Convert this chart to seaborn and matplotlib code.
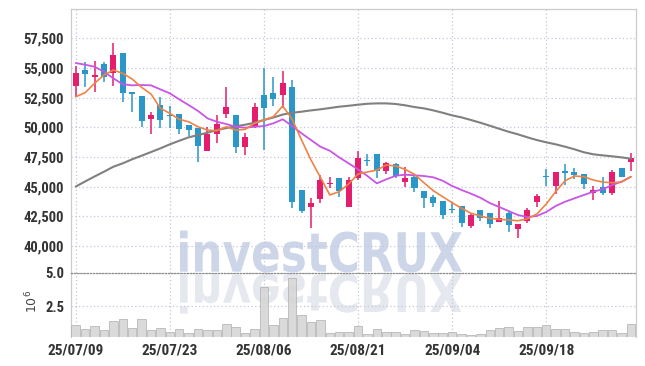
import os
import numpy as np
import pandas as pd
import seaborn as sns
import matplotlib
matplotlib.use("Agg")
import matplotlib.pyplot as plt
from matplotlib import font_manager
from matplotlib.textpath import TextPath
from matplotlib.patches import PathPatch
from matplotlib.font_manager import FontProperties
from matplotlib.transforms import Affine2D

# trading days (KRX), 25/07/09 .. 25/10/01
dates = [
    "07/09", "07/10", "07/11", "07/14", "07/15", "07/16", "07/17", "07/18", "07/21", "07/22",
    "07/23", "07/24", "07/25", "07/28", "07/29", "07/30", "07/31", "08/01", "08/04", "08/05",
    "08/06", "08/07", "08/08", "08/11", "08/12", "08/13", "08/14", "08/18", "08/19", "08/20",
    "08/21", "08/22", "08/25", "08/26", "08/27", "08/28", "08/29", "09/01", "09/02", "09/03",
    "09/04", "09/05", "09/08", "09/09", "09/10", "09/11", "09/12", "09/15", "09/16", "09/17",
    "09/18", "09/19", "09/22", "09/23", "09/24", "09/25", "09/26", "09/29", "09/30", "10/01",
]

opens = [53480, 54830, 54270, 55340, 54550, 56260, 52950, 52640, 50730, 51880,
         51040, 51100, 50200, 49970, 48030, 49410, 51100, 51040, 48320, 50050,
         52720, 52870, 52720, 53370, 44720, 43260, 43940, 45230, 45700, 43310,
         45700, 47250, 47730, 46350, 46910, 45420, 45840, 44630, 44150, 43790,
         43130, 43370, 41690, 43030, 42760, 42050, 42760, 41430, 42130, 43730,
         45870, 45060, 46320, 46260, 46070, 44490, 45000, 44490, 46600, 47050]
highs = [55170, 55480, 55590, 55530, 57080, 56260, 53000, 52640, 51320, 52580,
         51800, 51120, 50200, 49970, 50050, 51040, 53370, 51040, 49500, 52080,
         54970, 54270, 54750, 53990, 44720, 44020, 45980, 45790, 45700, 45790,
         48030, 47730, 47730, 47100, 46970, 46630, 45980, 44630, 44300, 43790,
         43600, 43370, 42760, 43030, 42810, 43790, 42950, 41860, 43180, 44380,
         46460, 46260, 46880, 46550, 46070, 45060, 45840, 46400, 46600, 47860]
lows = [52580, 53420, 53000, 53840, 53480, 52160, 51320, 50000, 49440, 49920,
        49920, 49440, 49270, 47100, 48030, 48650, 50760, 47810, 47670, 49920,
        48090, 51800, 51600, 43180, 42810, 41490, 43600, 44860, 44100, 43260,
        45560, 46740, 45700, 46070, 45700, 45000, 44580, 43180, 43310, 42250,
        42760, 41630, 41490, 42130, 41540, 42050, 41210, 40650, 41960, 43260,
        45060, 44380, 45140, 45620, 44780, 43880, 44300, 44300, 45790, 46350]
closes = [54600, 54490, 54410, 54220, 56090, 52870, 52780, 50560, 51040, 50640,
          50950, 49880, 49770, 48430, 49410, 50260, 51690, 48320, 49160, 51690,
          51650, 52360, 53710, 43730, 42970, 43600, 45560, 45330, 44660, 45560,
          47390, 47190, 46320, 46970, 45900, 45760, 44860, 44070, 43600, 42610,
          43060, 41960, 42610, 42330, 41830, 42330, 41770, 41860, 43030, 44210,
          45810, 46210, 46180, 45980, 45230, 44720, 44440, 46210, 45790, 47390]

ma_short = [52580, 52920, 53710, 54410, 54830, 54550, 54070, 53370, 52810, 51600,
            51180, 50680, 50470, 50050, 49770, 49720, 50050, 49770, 49830, 50340,
            50620, 50900, 51800, 50680, 48930, 47250, 45790, 44300, 44580, 45230,
            46070, 46240, 46400, 46830, 46740, 46460, 46040, 45330, 44660, 44150,
            43650, 43180, 42760, 42530, 42330, 42250, 42190, 42130, 42300, 42700,
            43540, 44580, 45500, 45900, 45840, 45560, 45390, 45330, 45390, 45840]
ma_mid = [55420, 55280, 55110, 54690, 54130, 53630, 53540, 53570, 53540, 53200,
          52870, 52360, 51880, 51380, 50760, 50470, 50280, 50050, 49970, 50050,
          50110, 50340, 50680, 50110, 49500, 48930, 48370, 48030, 47470, 46970,
          46460, 45900, 45280, 45620, 45920, 46010, 45960, 45900, 45790, 45500,
          45060, 44720, 44410, 44070, 43620, 43290, 42950, 42610, 42440, 42530,
          42870, 43370, 43730, 44020, 44300, 44580, 44780, 45140, 45420, 45840]
ma_long = [45010, 45440, 45860, 46260, 46680, 46970, 47310, 47610, 47920, 48230,
           48570, 48870, 49160, 49350, 49550, 49770, 49940, 50090, 50220, 50390,
           50620, 50830, 51080, 51230, 51320, 51430, 51520, 51630, 51740, 51820,
           51910, 51990, 52020, 52020, 51970, 51860, 51710, 51600, 51430, 51230,
           51010, 50840, 50620, 50390, 50140, 49880, 49630, 49410, 49160, 48930,
           48740, 48570, 48370, 48150, 47900, 47730, 47640, 47560, 47470, 47360]

# volume in millions of shares
volume = [1.08, 0.78, 1.00, 0.68, 1.35, 1.53, 0.85, 1.53, 0.68, 0.85,
          0.53, 0.75, 0.45, 0.75, 0.68, 0.68, 1.13, 0.93, 0.45, 0.75,
          3.90, 1.05, 1.58, 4.58, 1.80, 1.28, 1.43, 0.45, 0.53, 0.53,
          1.00, 0.38, 0.75, 0.53, 0.53, 0.38, 0.68, 0.60, 0.50, 0.45,
          0.53, 0.38, 0.33, 0.38, 0.68, 0.85, 0.93, 0.60, 0.93, 0.93,
          1.05, 0.75, 0.75, 0.53, 0.45, 0.58, 0.68, 0.68, 0.45, 1.13]

price_ticks = [40000, 42500, 45000, 47500, 50000, 52500, 55000, 57500]

RED = "#e41e6c"
BLUE = "#2b96c8"
GRID = "#c3c8da"
SPINE = "#cccccc"
TXT = "#333333"


def pick_label_font():
    # the reference uses a narrow bold face; take one if installed
    fonts = font_manager.fontManager.ttflist
    for want in ["Liberation Sans Narrow", "Roboto Condensed", "Open Sans Condensed",
                 "Noto Sans Condensed", "Lato Condensed"]:
        for f in fonts:
            if f.name == want and f.weight in (700, "bold") and f.style == "normal":
                return FontProperties(fname=f.fname), True
    for f in fonts:
        base = os.path.basename(f.fname).lower()
        if ("narrow" in base or "condensed" in base) and "bold" in base \
                and "italic" not in base and "oblique" not in base \
                and "semibold" not in base and "extrabold" not in base \
                and "dejavu" not in base and "mono" not in base and "serif" not in base:
            return FontProperties(fname=f.fname), True
    return FontProperties(family="Liberation Sans", weight="bold"), False


lab_font, is_narrow = pick_label_font()

df = pd.DataFrame({"date": ["25/" + d for d in dates], "open": opens, "high": highs,
                   "low": lows, "close": closes, "ma_short": ma_short, "ma_mid": ma_mid,
                   "ma_long": ma_long, "volume": volume})
df["idx"] = np.arange(len(df))

sns.set_style("white")
plt.rcParams["font.family"] = ["Liberation Sans", "DejaVu Sans"]

fig = plt.figure(figsize=(6.45, 3.66), dpi=100)
ax = fig.add_axes([0.1101, 0.2549, 0.8754, 0.7197])
axv = fig.add_axes([0.1101, 0.0801, 0.8754, 0.1748])
for a in (ax, axv):
    a.set_facecolor("none")

# watermark + reflection, behind both panels
fp = FontProperties(family="DejaVu Sans", weight="bold")
tp = TextPath((0, 0), "investCRUX", size=100, prop=fp)
bb = tp.get_extents()
sx = (462 - 180) / bb.width
sy = 39.5 / 72.9
H = 366
wm = PathPatch(tp, fc="#cdd5e8", ec="none", zorder=-2,
               transform=Affine2D().translate(-bb.x0, 0).scale(sx, sy).translate(180, H - 271.7))
wm_ref = PathPatch(tp, fc="#e6e8ef", ec="none", zorder=-2,
                   transform=Affine2D().translate(-bb.x0, 0).scale(sx, -sy * 0.95).translate(180, H - 274.5))
fig.add_artist(wm)
fig.add_artist(wm_ref)

# candles
up = df["close"] >= df["open"]
colors = np.where(up, RED, BLUE)
ax.vlines(df["idx"], df["low"], df["high"], colors=colors, lw=1.1, zorder=3)
mid = (df["open"] + df["close"]) / 2
body = np.maximum((df["close"] - df["open"]).abs(), 110)
ax.bar(df["idx"], body, bottom=mid - body / 2, width=0.64, color=colors, lw=0, zorder=4)

sns.lineplot(data=df, x="idx", y="ma_long", ax=ax, color="#808080", lw=1.5, zorder=5)
sns.lineplot(data=df, x="idx", y="ma_mid", ax=ax, color="#c955e6", lw=1.3, zorder=5)
sns.lineplot(data=df, x="idx", y="ma_short", ax=ax, color="#ef8345", lw=1.2, zorder=6)

sns.barplot(data=df, x="idx", y="volume", ax=axv, native_scale=True, color="#d6d6d6",
            saturation=1, errorbar=None, width=0.9, edgecolor="#b3b3b3", linewidth=0.6,
            alpha=0.9, zorder=3)

tick_pos = df["idx"].iloc[::10].tolist()
tick_lab = df["date"].iloc[::10].tolist()

ax.set_xlim(-0.5, len(df) - 0.5)
axv.set_xlim(-0.5, len(df) - 0.5)
ax.set_ylim(37750, 59950)
axv.set_ylim(0.2, 5.0)

ax.set_yticks(price_ticks, [f"{v:,}" for v in price_ticks])
ax.set_xticks(tick_pos)
ax.tick_params(labelbottom=False, length=0, pad=5, labelcolor=TXT)
axv.set_yticks([2.5, 5.0], ["2.5", "5.0"])
axv.set_xticks(tick_pos, tick_lab)
axv.tick_params(length=0, pad=5, labelcolor=TXT)

ysize = 10.5 if is_narrow else 9.5
xsize = 11 if is_narrow else 9.8
for lbl in ax.get_yticklabels() + axv.get_yticklabels():
    lbl.set_fontproperties(lab_font)
    lbl.set_fontsize(ysize)
for lbl in axv.get_xticklabels():
    lbl.set_fontproperties(lab_font)
    lbl.set_fontsize(xsize)

for a in (ax, axv):
    a.set_xlabel("")
    a.set_ylabel("")
    a.grid(True, color=GRID, ls=(0, (1, 2)), lw=0.9)
    a.set_axisbelow(True)
    for s in a.spines.values():
        s.set_color(SPINE)
        s.set_linewidth(0.9)

ax.spines["bottom"].set_visible(False)
axv.spines["bottom"].set_visible(False)
axv.spines["top"].set_color("#8c8c8c")
axv.spines["top"].set_linestyle((0, (1, 1.5)))

fig.text(32 / 645, 1 - 301.5 / H, r"$10^{6}$", rotation=90, fontsize=9, color="#444444",
         ha="center", va="center")

fig.savefig("out.png", dpi=100)
